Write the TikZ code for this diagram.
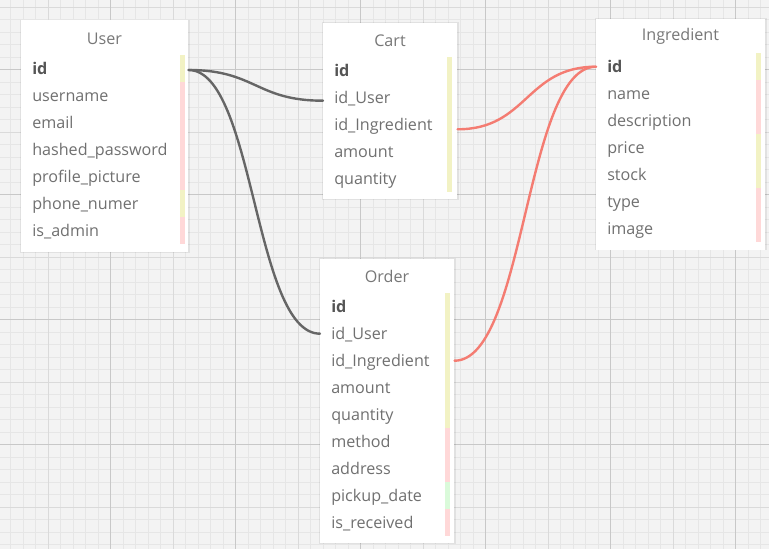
\documentclass[tikz,border=0pt]{standalone}
\usepackage{fontspec}
\setmainfont{Open Sans}
\usetikzlibrary{calc}
\definecolor{bgc}{HTML}{F3F3F3}
\definecolor{minorc}{HTML}{E6E6E6}
\definecolor{medc}{HTML}{DADADA}
\definecolor{darkc}{HTML}{C8C8C8}
\definecolor{barY}{HTML}{F2F2C4}
\definecolor{barP}{HTML}{FFD8D8}
\definecolor{barG}{HTML}{DAFADA}
\definecolor{rowc}{HTML}{707070}
\definecolor{idc}{HTML}{555555}
\definecolor{ttlc}{HTML}{777777}
\definecolor{linkg}{HTML}{666666}
\definecolor{linkr}{HTML}{F47C72}
\newlength{\pxu}
\setlength{\pxu}{0.75pt}
\begin{document}
\begin{tikzpicture}[x=0.75pt,y=-0.75pt,
  minorl/.style={draw=minorc,line width=1\pxu},
  medl/.style={draw=medc,line width=1\pxu},
  darkl/.style={draw=darkc,line width=1\pxu},
  tbl/.style={fill=white,inner sep=0pt,anchor=north west},
  shad/.style={fill=black,opacity=0.07},
  ttl/.style={text=ttlc,font=\fontsize{12.1pt}{14pt}\selectfont,inner sep=0pt},
  rowbase/.style={anchor=west,align=left,inner xsep=11\pxu,inner ysep=0pt,
     text height=14\pxu,text depth=2\pxu,minimum height=27\pxu,
     text=rowc,font=\fontsize{12.1pt}{14pt}\selectfont},
  rowU/.style={rowbase,text width=145\pxu},
  rowC/.style={rowbase,text width=112\pxu},
  rowI/.style={rowbase,text width=147\pxu},
  rowO/.style={rowbase,text width=112\pxu},
  idrow/.style={text=idc,font=\fontsize{12.1pt}{14pt}\selectfont\bfseries},
  link/.style={line width=2.4\pxu,line cap=round},
  linkgray/.style={link,draw=linkg},
  linkred/.style={link,draw=linkr}]
\useasboundingbox (0,0) rectangle (769,549);
% background grid
\fill[bgc] (0,0) rectangle (769,549);
\foreach \i in {0,...,61} \draw[minorl] ({10.8+12.5*\i},0) -- ++(0,549);
\foreach \i in {0,...,43} \draw[minorl] (0,{7.2+12.5*\i}) -- ++(769,0);
\foreach \i in {0,...,5} \draw[medl] ({48.2+125*\i},0) -- ++(0,549);
\foreach \i in {0,...,4} \draw[medl] (0,{7.2+125*\i}) -- ++(769,0);
\foreach \i in {0,...,5} \draw[darkl] ({110.7+125*\i},0) -- ++(0,549);
\foreach \i in {0,...,3} \draw[darkl] (0,{69.5+125*\i}) -- ++(769,0);
% shadows
\fill[shad] (20,20) rectangle (189.5,253.5);
\fill[shad] (322,22) rectangle (458.5,200);
\fill[shad] (595,18) rectangle (766.5,250.5);
\fill[shad] (319,258) rectangle (455.5,544.5);
% ---------- User ----------
\node[tbl,minimum width=167\pxu,minimum height=232\pxu] (user) at (21,20) {};
\node[ttl] (user-title) at (104.5,38.5) {User};
\fill[barY] (180,55.5) rectangle (185,82.5);
\fill[barP] (180,82.5) rectangle (185,190.5);
\fill[barY] (180,190.5) rectangle (185,217.5);
\fill[barP] (180,217.5) rectangle (185,244.5);
\node[rowU,idrow] (uid) at (21,69) {id};
\node[rowU] (uusername) at (21,96) {username};
\node[rowU] (uemail) at (21,123) {email};
\node[rowU] (uhash) at (21,150) {hashed\_password};
\node[rowU] (upic) at (21,177) {profile\_picture};
\node[rowU] (uphone) at (21,204) {phone\_numer};
\node[rowU] (uadmin) at (21,231) {is\_admin};
% ---------- Cart ----------
\node[tbl,minimum width=134\pxu,minimum height=176\pxu] (cart) at (323,22.3) {};
\node[ttl] (cart-title) at (390,40.5) {Cart};
\fill[barY] (447,57) rectangle (452,192);
\node[rowC,idrow] (cid) at (323,71) {id};
\node[rowC] (cuser) at (323,98) {id\_User};
\node[rowC] (cingr) at (323,125) {id\_Ingredient};
\node[rowC] (camount) at (323,152) {amount};
\node[rowC] (cqty) at (323,179) {quantity};
% ---------- Ingredient ----------
\node[tbl,minimum width=169\pxu,minimum height=231\pxu] (ingr) at (596,18.3) {};
\node[ttl] (ingr-title) at (680.5,36.2) {Ingredient};
\fill[barY] (756,53.2) rectangle (761,80.2);
\fill[barP] (756,80.2) rectangle (761,134.2);
\fill[barY] (756,134.2) rectangle (761,188.2);
\fill[barP] (756,188.2) rectangle (761,242.2);
\node[rowI,idrow] (iid) at (596,66.7) {id};
\node[rowI] (iname) at (596,93.7) {name};
\node[rowI] (idesc) at (596,120.7) {description};
\node[rowI] (iprice) at (596,147.7) {price};
\node[rowI] (istock) at (596,174.7) {stock};
\node[rowI] (itype) at (596,201.7) {type};
\node[rowI] (iimage) at (596,228.7) {image};
% ---------- Order ----------
\node[tbl,minimum width=134\pxu,minimum height=284.5\pxu] (order) at (320,258.3) {};
\node[ttl] (order-title) at (387,276.2) {Order};
\fill[barY] (445,293.2) rectangle (450,428.2);
\fill[barP] (445,428.2) rectangle (450,482.2);
\fill[barG] (445,482.2) rectangle (450,509.2);
\fill[barP] (445,509.2) rectangle (450,536.2);
\node[rowO,idrow] (oid) at (320,306.7) {id};
\node[rowO] (ouser) at (320,333.7) {id\_User};
\node[rowO] (oingr) at (320,360.7) {id\_Ingredient};
\node[rowO] (oamount) at (320,387.7) {amount};
\node[rowO] (oqty) at (320,414.7) {quantity};
\node[rowO] (omethod) at (320,441.7) {method};
\node[rowO] (oaddr) at (320,468.7) {address};
\node[rowO] (opickup) at (320,495.7) {pickup\_date};
\node[rowO] (orecv) at (320,522.7) {is\_received};
% ---------- connectors ----------
\draw[linkgray] ($(uid.east)+(0,1)$) .. controls +(67,0) and +(-67,0) .. ($(cuser.west)+(0,2.7)$);
\draw[linkgray] ($(uid.east)+(0,1)$) .. controls +(66,0) and +(-66,0) .. (ouser.west);
\draw[linkred] ($(cingr.east)+(0,4.3)$) .. controls +(70,0) and +(-70,0) .. (iid.west);
\draw[linkred] (oingr.east) .. controls +(71,0) and +(-71,0) .. (iid.west);
\end{tikzpicture}
\end{document}
